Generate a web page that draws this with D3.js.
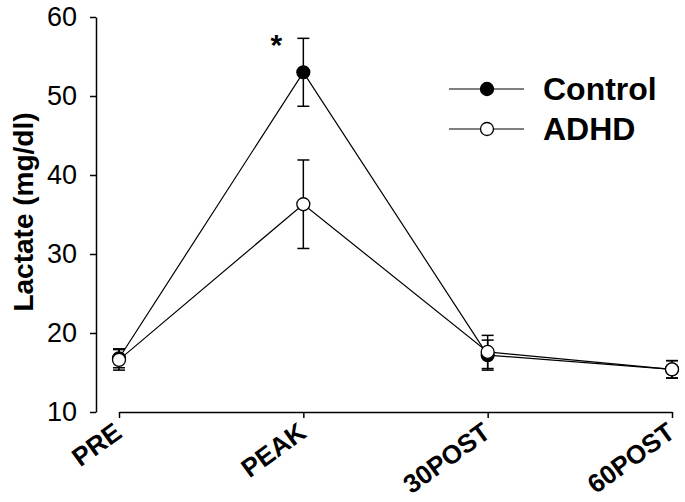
<!DOCTYPE html>
<html>
<head>
<meta charset="utf-8">
<script src="https://cdn.jsdelivr.net/npm/d3@7"></script>
<style>
  body { margin: 0; background: #fff; }
  svg { display: block; font-family: "Liberation Sans", Arial, sans-serif; }
</style>
</head>
<body>
<svg id="chart" width="685" height="502"></svg>
<script>
// values
const timepoints = ["PRE", "PEAK", "30POST", "60POST"];
const controlMean = [16.8, 53.0, 17.2, 15.4];
const controlErr = [1.2, 4.3, 1.9, 1.1];
const adhdMean = [16.6, 36.3, 17.6, 15.4];
const adhdErr = [1.3, 5.6, 2.1, 1.1];
const yTicks = [10, 20, 30, 40, 50, 60];
const seriesNames = ["Control", "ADHD"];

const svg = d3.select("#chart");

var x = d3.scalePoint().domain(timepoints).range([119, 672]);
var y = d3.scaleLinear().domain([10, 60]).range([412, 17]);

// y axis
var yAxis = svg.append("g")
  .attr("transform", "translate(96,0)")
  .call(d3.axisLeft(y).tickValues(yTicks).tickSize(6).tickPadding(13).tickSizeOuter(0));
yAxis.select(".domain").attr("stroke-width", 1.5);
yAxis.selectAll(".tick line").attr("stroke-width", 1.5);
yAxis.selectAll(".tick text")
  .style("font-size", "27px")
  .style("font-family", "Liberation Sans, Arial, sans-serif")
  .attr("fill", "#000");

// x axis (detached from y axis)
var xAxis = svg.append("g")
  .attr("transform", "translate(0,412)")
  .call(d3.axisBottom(x).tickSize(6).tickSizeOuter(0));
xAxis.select(".domain").attr("stroke-width", 1.5);
xAxis.selectAll(".tick line").attr("stroke-width", 1.5);
xAxis.selectAll(".tick text")
  .style("font-size", "26px")
  .style("font-weight", "bold")
  .style("font-family", "Liberation Sans, Arial, sans-serif")
  .attr("fill", "#000")
  .attr("text-anchor", "end")
  .attr("dy", null)
  .attr("y", 0)
  .attr("transform", "translate(4,24) rotate(-36)");

// y label
svg.append("text")
  .attr("transform", "translate(33,212) rotate(-90)")
  .attr("text-anchor", "middle")
  .style("font-size", "28px")
  .style("font-weight", "bold")
  .text("Lactate (mg/dl)");

function rows(means, errs) {
  return timepoints.map((t, i) => ({ key: t, value: means[i], err: errs[i] }));
}
const data0 = rows(controlMean, controlErr);
const data1 = rows(adhdMean, adhdErr);

var line = d3.line().x(d => x(d.key)).y(d => y(d.value));

// connecting lines
[data0, data1].forEach(function (d) {
  svg.append("path")
    .datum(d)
    .attr("d", line)
    .attr("fill", "none")
    .attr("stroke", "#000")
    .attr("stroke-width", 1.2);
});

// error bars
function errorBars(data, cls) {
  var g = svg.append("g").attr("class", cls);
  g.selectAll("line.stem")
    .data(data)
    .join("line")
    .attr("class", "stem")
    .attr("x1", d => x(d.key)).attr("x2", d => x(d.key))
    .attr("y1", d => y(d.value - d.err)).attr("y2", d => y(d.value + d.err))
    .attr("stroke", "#000").attr("stroke-width", 1.5);
  g.selectAll("line.capTop")
    .data(data)
    .join("line")
    .attr("class", "capTop")
    .attr("x1", d => x(d.key) - 6).attr("x2", d => x(d.key) + 6)
    .attr("y1", d => y(d.value + d.err)).attr("y2", d => y(d.value + d.err))
    .attr("stroke", "#000").attr("stroke-width", 1.5);
  g.selectAll("line.capBot")
    .data(data)
    .join("line")
    .attr("class", "capBot")
    .attr("x1", d => x(d.key) - 6).attr("x2", d => x(d.key) + 6)
    .attr("y1", d => y(d.value - d.err)).attr("y2", d => y(d.value - d.err))
    .attr("stroke", "#000").attr("stroke-width", 1.5);
}
errorBars(data0, "err0");
errorBars(data1, "err1");

// markers
svg.selectAll("circle.c0")
  .data(data0)
  .join("circle")
  .attr("class", "c0")
  .attr("cx", d => x(d.key)).attr("cy", d => y(d.value))
  .attr("r", 6.5)
  .attr("fill", "#000").attr("stroke", "#000").attr("stroke-width", 1.2);

svg.selectAll("circle.c1")
  .data(data1)
  .join("circle")
  .attr("class", "c1")
  .attr("cx", d => x(d.key)).attr("cy", d => y(d.value))
  .attr("r", 6.5)
  .attr("fill", "#fff").attr("stroke", "#000").attr("stroke-width", 1.3);

// significance star over PEAK
svg.append("text")
  .attr("x", x("PEAK") - 27)
  .attr("y", y(controlMean[1] + controlErr[1]) + 17)
  .attr("text-anchor", "middle")
  .style("font-size", "30px")
  .style("font-weight", "bold")
  .text("*");

// legend
var legendData = [
  { name: seriesNames[0], fill: "#000", y: 89 },
  { name: seriesNames[1], fill: "#fff", y: 129 }
];
var legend = svg.selectAll(".legendItem")
  .data(legendData)
  .join("g")
  .attr("class", "legendItem")
  .attr("transform", d => `translate(0, ${d.y})`);
legend.append("line")
  .attr("x1", 449).attr("x2", 524)
  .attr("stroke", "#000").attr("stroke-width", 1.2);
legend.append("circle")
  .attr("cx", 487).attr("r", 6.5)
  .attr("fill", d => d.fill).attr("stroke", "#000").attr("stroke-width", 1.3);
legend.append("text")
  .attr("x", 543).attr("y", 11)
  .style("font-size", "32px")
  .style("font-weight", "bold")
  .text(d => d.name);
</script>
</body>
</html>
